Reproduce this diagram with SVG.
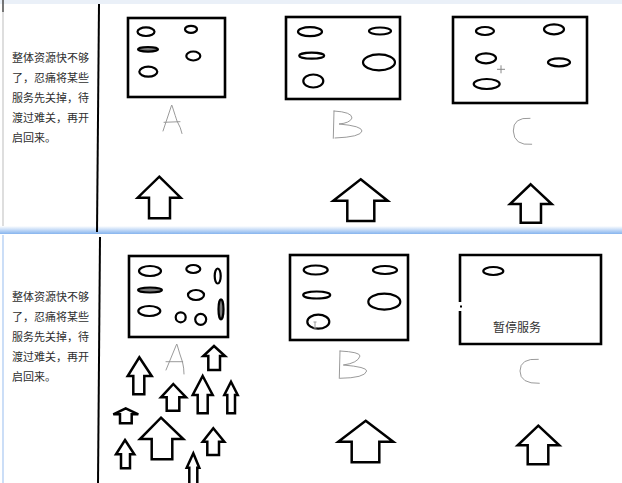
<svg xmlns="http://www.w3.org/2000/svg" width="622" height="483" viewBox="0 0 622 483">
<style>
.bx{fill:none;stroke:#000;stroke-width:2.6}
.el{fill:none;stroke:#000;stroke-width:2.2}
.fe{fill:#7a7a7a;stroke:#000;stroke-width:2.2}
.arr{fill:#fff;stroke:#000;stroke-width:2.5;stroke-linejoin:miter}
.hand{fill:none;stroke:#8f8f8f;stroke-width:0.9;stroke-linecap:round;stroke-linejoin:round}
.note{font-family:"Noto Sans CJK SC","Noto Sans",sans-serif;font-size:11px;fill:#2e2e2e}
.lbl{font-family:"Noto Sans CJK SC","Noto Sans",sans-serif;font-size:12px;fill:#333}
.div{stroke:#000;stroke-width:2}
</style>
<defs>
<linearGradient id="sep" x1="0" y1="0" x2="0" y2="1">
<stop offset="0" stop-color="#ffffff"/>
<stop offset="1" stop-color="#86b4ee"/>
</linearGradient>
</defs>
<rect width="622" height="483" fill="#fff"/>
<rect x="0" y="0" width="622" height="4" fill="#eaf0f8"/>
<rect x="0" y="226" width="622" height="8" fill="url(#sep)"/>
<line x1="3" y1="0" x2="3" y2="226" stroke="#c8c8c8" stroke-width="1.2"/>
<line x1="3" y1="0" x2="3" y2="12" stroke="#333" stroke-width="1.2"/>
<line x1="3" y1="235" x2="3" y2="483" stroke="#a9c8f2" stroke-width="1.2"/>

<g id="top-panel">
<line class="div" x1="99" y1="4" x2="97" y2="232"/>
<g id="top-note">
<text class="note" x="12" y="62">整体资源快不够</text>
<text class="note" x="12" y="82">了，忍痛将某些</text>
<text class="note" x="12" y="102">服务先关掉，待</text>
<text class="note" x="12" y="122">渡过难关，再开</text>
<text class="note" x="12" y="141.5">启回来。</text>
</g>
<g id="top-A">
<rect class="bx" x="128" y="18" width="97" height="79"/>
<ellipse class="el" cx="146" cy="31.7" rx="8.5" ry="4.3"/>
<ellipse class="el" cx="191" cy="29.3" rx="6" ry="3.5"/>
<ellipse class="fe" cx="148" cy="49.3" rx="10" ry="2.3"/>
<ellipse class="el" cx="193.3" cy="56" rx="7" ry="4.5"/>
<ellipse class="el" cx="148.3" cy="71.7" rx="9" ry="5"/>
<path class="hand" d="M163,131 L171.5,105.5 M172,105.5 Q176,118 177,121 Q181,128 182,133.5 M164,122.3 L180,121.7"/>
</g>
<g id="top-B">
<rect class="bx" x="286" y="17" width="114" height="82"/>
<ellipse class="el" cx="310" cy="31.7" rx="12" ry="4.5"/>
<ellipse class="el" cx="380" cy="31" rx="11" ry="3.5"/>
<ellipse class="el" cx="311.7" cy="55.7" rx="12.5" ry="3"/>
<ellipse class="el" cx="379" cy="62.3" rx="16" ry="8"/>
<ellipse class="el" cx="313.3" cy="81" rx="10" ry="6.5"/>
<path class="hand" d="M334,111 L333.3,138.3 M334,111 Q352,112 352,118 Q350,123 339,124 Q362,126 362,131 Q361,137 335,138"/>
</g>
<g id="top-C">
<rect class="bx" x="453" y="17" width="134" height="86"/>
<ellipse class="el" cx="485" cy="31" rx="9" ry="4"/>
<ellipse class="el" cx="554" cy="29.3" rx="10" ry="5"/>
<ellipse class="el" cx="486" cy="58.3" rx="10" ry="5"/>
<ellipse class="el" cx="559" cy="62.3" rx="11" ry="4"/>
<ellipse class="el" cx="486.7" cy="84" rx="13" ry="5"/>
<path d="M497,69.3 L505,69.3 M501,65.3 L501,73.3" stroke="#888" stroke-width="1" fill="none"/>
<path class="hand" d="M530,118.3 Q513,117 513.3,131 Q514,146 531.7,144.3"/>
</g>
</g>

<g id="bottom-panel">
<line class="div" x1="100" y1="237" x2="98" y2="483"/>
<g id="bottom-note">
<text class="note" x="12" y="300.5">整体资源快不够</text>
<text class="note" x="12" y="321">了，忍痛将某些</text>
<text class="note" x="12" y="341">服务先关掉，待</text>
<text class="note" x="12" y="361">渡过难关，再开</text>
<text class="note" x="12" y="381">启回来。</text>
</g>
<g id="bottom-A">
<rect class="bx" x="129" y="256" width="99" height="81"/>
<ellipse class="el" cx="150" cy="271" rx="11" ry="5"/>
<ellipse class="el" cx="193.3" cy="269" rx="7" ry="4"/>
<ellipse class="el" cx="217.7" cy="276" rx="3" ry="7.5"/>
<ellipse class="fe" cx="150" cy="290" rx="12" ry="2.5"/>
<ellipse class="el" cx="196" cy="295" rx="8" ry="5"/>
<ellipse class="fe" cx="221" cy="309.3" rx="2.5" ry="10"/>
<ellipse class="el" cx="149.3" cy="311" rx="11" ry="5"/>
<circle class="el" cx="180.7" cy="317.3" r="5"/>
<circle class="el" cx="200.7" cy="319.3" r="5.5"/>
<path class="hand" d="M166,370 L176.5,344.5 M177,344.5 Q180,355 182.5,362 Q184,368 184,374 M166,361.7 L182.7,361.7"/>
</g>
<g id="bottom-B">
<rect class="bx" x="290" y="255" width="118" height="85"/>
<ellipse class="el" cx="315.7" cy="270" rx="12" ry="4.5"/>
<ellipse class="el" cx="385" cy="270" rx="12" ry="4"/>
<ellipse class="el" cx="316.7" cy="295" rx="13.5" ry="3.5"/>
<ellipse class="el" cx="384.3" cy="301.7" rx="16" ry="8"/>
<ellipse class="el" cx="318.3" cy="321.7" rx="11" ry="7"/>
<path d="M315,322 L315,328 M313.5,322 L316.5,322 M313.5,328 L316.5,328" stroke="#999" stroke-width="1" fill="none"/>
<path class="hand" d="M340,351 L339.3,378.3 M340,351 Q360,352 360,356 Q358,363 343.3,365 Q367,367 366.7,371 Q365,378 340,378.3"/>
</g>
<g id="bottom-C">
<path class="bx" d="M460,302 L460,255 L601,255 L601,344 L460,344 L460,311"/>
<rect x="460" y="305.5" width="2" height="2" fill="#000"/>
<ellipse class="el" cx="493.3" cy="271" rx="10" ry="4"/>
<text class="lbl" x="493" y="332">暂停服务</text>
<path class="hand" d="M538.3,359.3 Q520,358 520,371 Q520,384 539.3,383.3"/>
</g>
</g>

<g id="arrows">
<polygon class="arr" points="159.3,176.7 180.7,197.7 170,197.7 170,218.3 149,218.3 149,197.7 137.7,197.7"/>
<polygon class="arr" points="360.7,179.3 387.7,200.7 374.3,200.7 374.3,221 347.3,221 347.3,200.7 333.3,200.7"/>
<polygon class="arr" points="530.7,184.3 551.7,204 541,204 541,222.7 520.7,222.7 520.7,204 510,204"/>
<polygon class="arr" points="365.7,420.7 393.3,441.7 379.3,441.7 379.3,462.3 351.7,462.3 351.7,441.7 338.3,441.7"/>
<polygon class="arr" points="538.3,425.7 559.3,445.3 548.3,445.3 548.3,464.3 527.7,464.3 527.7,445.3 517.7,445.3"/>
<polygon class="arr" points="139.3,357.3 151.7,376 144.3,376 144.3,394.3 133.3,394.3 133.3,376 127.7,376"/>
<polygon class="arr" points="214,346 225,356 220,356 220,370 208.3,370 208.3,356 203.3,356"/>
<polygon class="arr" points="173.3,384 186,397.3 179.3,397.3 179.3,410.7 166.7,410.7 166.7,397.3 161,397.3"/>
<polygon class="arr" points="202.7,376 212.7,395 207.7,395 207.7,413.3 197.7,413.3 197.7,395 192.7,395"/>
<polygon class="arr" points="231,381.7 237.7,395 235,395 235,413.3 227.3,413.3 227.3,395 224.3,395"/>
<polygon class="arr" points="125.7,408.3 138.3,414.3 131.7,414.3 131.7,423.3 120,423.3 120,414.3 113.3,414.3"/>
<polygon class="arr" points="161,417.7 183.3,439 172.3,439 172.3,459.3 151.7,459.3 151.7,439 140,439"/>
<polygon class="arr" points="213.3,428.3 224.3,441.7 219,441.7 219,455 207.3,455 207.3,441.7 202.7,441.7"/>
<polygon class="arr" points="125,440 134.3,454.3 130,454.3 130,468.3 121,468.3 121,454.3 116,454.3"/>
<polygon class="arr" points="193.3,453.3 199.3,467.7 197.3,467.7 197.3,486 189.3,486 189.3,467.7 186.7,467.7"/>
</g>
</svg>
